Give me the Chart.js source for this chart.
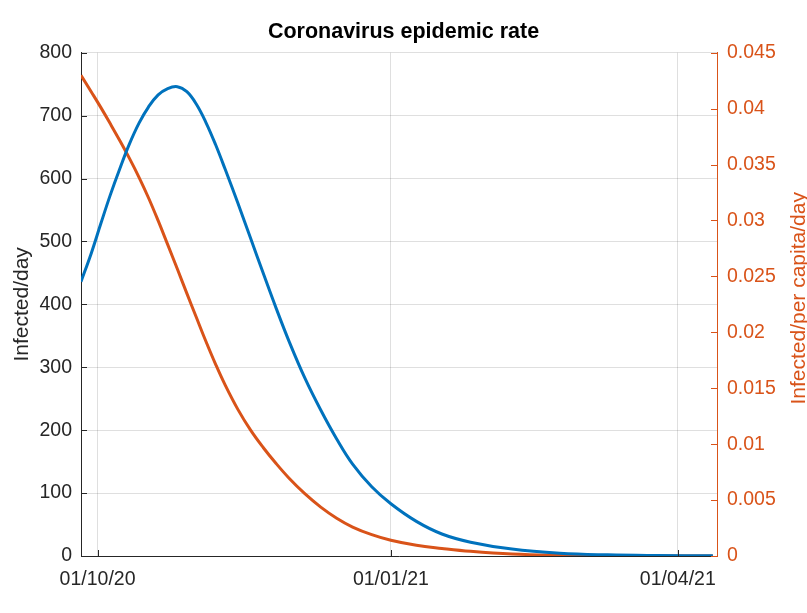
<!DOCTYPE html>
<html>
<head>
<meta charset="utf-8">
<script src="https://cdn.jsdelivr.net/npm/chart.js@4.4.0/dist/chart.umd.min.js"></script>
<style>
  html, body { margin: 0; padding: 0; background: #ffffff; }
  #wrap { width: 807px; height: 613px; }
</style>
</head>
<body>
<div id="wrap"><canvas id="c" width="807" height="613"></canvas></div>
<script>
// ---- data (x = days since 01/10/20) ----
const days = [-5.2, -2, 1, 4, 7, 10, 13, 16, 19, 22, 25, 28, 31, 34, 37, 40, 44, 48, 52, 56, 60, 65, 70, 75, 80, 86, 92, 100, 108, 117, 130, 145, 160, 175, 193];
const infectedPerDay = [436, 481, 528, 574, 616, 655, 688, 714, 733, 743, 746, 738, 718, 689, 654, 615, 561, 505, 449, 394, 342, 283, 232, 186, 146, 110, 83, 55, 35, 22, 11, 4.5, 1.8, 0.7, 0.2];
const infectedPerCapita = [0.04298, 0.04151, 0.04011, 0.03864, 0.03713, 0.03555, 0.03386, 0.03201, 0.02998, 0.02784, 0.02568, 0.02348, 0.02132, 0.01918, 0.01716, 0.0153, 0.01311, 0.01125, 0.00968, 0.00827, 0.00698, 0.00557, 0.00437, 0.00338, 0.00259, 0.00191, 0.00141, 0.00096, 0.00068, 0.00042, 0.00018, 0.000068, 0.000025, 0.0000084, 0.0000023];
const dateTickDays = [0, 92, 182];
const dateTickLabels = ['01/10/20', '01/01/21', '01/04/21'];
const xRange = [-5.2, 194.3];
const leftRange = [0, 800];
const rightRange = [0, 0.045];
const titleText = 'Coronavirus epidemic rate';
const leftTitle = 'Infected/day';
const rightTitle = 'Infected/per capita/day';

const BLUE = '#0072BD';
const ORANGE = '#D95319';
const AXIS = '#262626';
const GRID = 'rgba(38,38,38,0.15)';
const FAMILY = '"Liberation Sans", Arial, Helvetica, sans-serif';

Chart.defaults.font.family = FAMILY;

const innerTicks = {
  id: 'innerTicks',
  afterDraw(chart) {
    const { ctx, chartArea: a, scales } = chart;
    const len = 6;
    ctx.save();
    ctx.lineWidth = 1;
    ctx.strokeStyle = AXIS;
    scales.y.ticks.forEach(t => {
      const y = Math.round(scales.y.getPixelForValue(t.value)) + 0.5;
      ctx.beginPath(); ctx.moveTo(a.left, y); ctx.lineTo(a.left + len, y); ctx.stroke();
    });
    scales.x.ticks.forEach(t => {
      const x = Math.round(scales.x.getPixelForValue(t.value)) + 0.5;
      ctx.beginPath(); ctx.moveTo(x, a.bottom); ctx.lineTo(x, a.bottom - len); ctx.stroke();
    });
    ctx.strokeStyle = ORANGE;
    scales.y1.ticks.forEach(t => {
      const y = Math.round(scales.y1.getPixelForValue(t.value)) + 0.5;
      ctx.beginPath(); ctx.moveTo(a.right, y); ctx.lineTo(a.right - len, y); ctx.stroke();
    });
    // right axis title, reading bottom-to-top
    ctx.fillStyle = ORANGE;
    ctx.font = '21px ' + FAMILY;
    ctx.translate(799, (a.top + a.bottom) / 2 - 6);
    ctx.rotate(-Math.PI / 2);
    ctx.textAlign = 'center';
    ctx.textBaseline = 'middle';
    ctx.fillText(rightTitle, 0, 0);
    ctx.restore();
  }
};

new Chart(document.getElementById('c'), {
  type: 'line',
  data: {
    datasets: [
      {
        label: leftTitle,
        data: days.map((d, i) => ({ x: d, y: infectedPerDay[i] })),
        borderColor: BLUE,
        borderWidth: 3,
        pointRadius: 0,
        tension: 0.4,
        yAxisID: 'y'
      },
      {
        label: rightTitle,
        data: days.map((d, i) => ({ x: d, y: infectedPerCapita[i] })),
        borderColor: ORANGE,
        borderWidth: 3,
        pointRadius: 0,
        tension: 0.4,
        yAxisID: 'y1'
      }
    ]
  },
  options: {
    responsive: false,
    animation: false,
    devicePixelRatio: 1,
    layout: { padding: 0 },
    plugins: {
      legend: { display: false },
      tooltip: { enabled: false },
      title: {
        display: true,
        text: titleText,
        color: '#000000',
        font: { size: 21.5, weight: 'bold', family: FAMILY, lineHeight: 1.2 },
        padding: { top: 19, bottom: 7.9 }
      }
    },
    scales: {
      x: {
        type: 'linear',
        position: 'bottom',
        min: xRange[0],
        max: xRange[1],
        afterBuildTicks: s => { s.ticks = dateTickDays.map(v => ({ value: v })); },
        afterFit: s => { s.height = 57; },
        ticks: {
          autoSkip: false,
          maxRotation: 0,
          padding: 11.5,
          color: AXIS,
          font: { size: 19.5 },
          callback: v => { const i = dateTickDays.indexOf(v); return i >= 0 ? dateTickLabels[i] : ''; }
        },
        grid: { color: GRID, drawTicks: false },
        border: { color: AXIS, width: 1 }
      },
      y: {
        position: 'left',
        min: leftRange[0],
        max: leftRange[1],
        afterFit: s => { s.width = 81; },
        ticks: { stepSize: 100, padding: 9, color: AXIS, font: { size: 19.5 } },
        grid: { color: GRID, drawTicks: false },
        border: { color: AXIS, width: 1 },
        title: {
          display: true,
          text: leftTitle,
          color: AXIS,
          font: { size: 21, lineHeight: 1.2 },
          padding: { top: 9.4, bottom: 0 }
        }
      },
      y1: {
        position: 'right',
        min: rightRange[0],
        max: rightRange[1],
        afterFit: s => { s.width = 90; },
        ticks: {
          stepSize: 0.005,
          padding: 10,
          color: ORANGE,
          font: { size: 19.5 },
          callback: v => String(+(+v).toFixed(3))
        },
        grid: { drawOnChartArea: false, drawTicks: false },
        border: { color: ORANGE, width: 1 }
      }
    }
  },
  plugins: [innerTicks]
});
</script>
</body>
</html>
